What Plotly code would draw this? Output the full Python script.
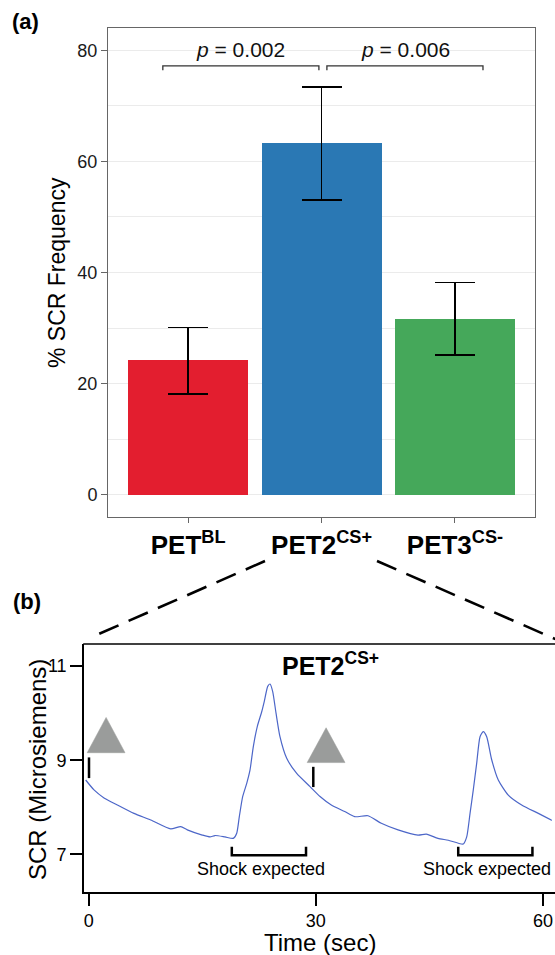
import plotly.graph_objects as go

W, H = 555, 955

# ---------------- Panel (a) data ----------------
categories = ["PET<sup>BL</sup>", "PET2<sup>CS+</sup>", "PET3<sup>CS-</sup>"]
scr_freq = [24.2, 63.3, 31.7]
err_upper = [30.1, 73.4, 38.2]
err_lower = [18.1, 53.1, 25.2]
bar_colors = ["#E31E2F", "#2A78B4", "#45A85A"]
y_ticks_a = [0, 20, 40, 60, 80]
p_labels = ["<i>p</i> = 0.002", "<i>p</i> = 0.006"]
p_label_x = [0.39, 1.63]
bracket_x0 = [-0.19, 1.04]
bracket_x1 = [0.98, 2.21]
bracket_y = 77.2
bracket_tick_y = 76.4

# ---------------- Panel (b) data ----------------
time_s = [-0.40, 0.70, 2.02, 3.78, 5.98, 8.19, 10.83, 12.15, 13.02, 15.00, 16.02, 16.68,
          18.00, 19.10, 19.55, 19.89, 20.34, 20.87, 21.30, 21.74, 22.27, 22.85, 23.19,
          23.64, 23.94, 24.30, 24.74, 25.26, 26.15, 27.47, 29.23, 30.55, 32.04, 33.81,
          35.13, 36.89, 38.64, 40.85, 43.49, 44.59, 46.13, 47.49, 49.47, 49.92, 50.36,
          50.79, 51.24, 51.68, 52.11, 52.56, 53.22, 54.09, 55.41, 57.18, 59.38, 61.58]
scr_us = [8.58, 8.37, 8.20, 8.05, 7.87, 7.73, 7.54, 7.59, 7.52, 7.41, 7.37, 7.40,
          7.37, 7.34, 7.45, 7.80, 8.23, 8.51, 8.79, 9.29, 9.72, 10.03, 10.25,
          10.57, 10.62, 10.46, 10.00, 9.50, 9.04, 8.72, 8.44, 8.23, 8.05, 7.91,
          7.80, 7.82, 7.66, 7.52, 7.41, 7.43, 7.34, 7.30, 7.22, 7.37, 7.87,
          8.37, 8.94, 9.50, 9.61, 9.50, 9.01, 8.58, 8.26, 8.05, 7.87, 7.69]
x_ticks_b = [0, 30, 60]
y_ticks_b = [7, 9, 11]
cue_time = [0.04, 29.66]
cue_tick_low = [8.62, 8.43]
cue_tick_high = [9.06, 8.86]
tri_center_t = [2.30, 31.35]
tri_half_width = 2.5
tri_base_v = [9.16, 8.95]
tri_apex_v = [9.91, 9.69]
shock_start = [18.9, 48.8]
shock_end = [28.7, 58.6]
shock_level = 6.98
shock_tick_top = 7.16
shock_label = "Shock expected"
shock_label_v = 6.68

FONT = "Liberation Sans, Arial, sans-serif"


def px(x):
    return x / W


def py(y):
    return 1 - y / H


fig = go.Figure()

fig.add_trace(go.Bar(
    x=list(range(len(categories))), y=scr_freq,
    marker=dict(color=bar_colors, line=dict(width=0)),
    width=0.9,
    error_y=dict(type="data", symmetric=False,
                 array=[u - m for u, m in zip(err_upper, scr_freq)],
                 arrayminus=[m - l for m, l in zip(scr_freq, err_lower)],
                 color="black", thickness=1.6, width=20),
    xaxis="x", yaxis="y", showlegend=False, hoverinfo="skip"))

fig.add_trace(go.Scatter(
    x=time_s, y=scr_us, mode="lines",
    line=dict(color="#4C66C8", width=1.2, shape="spline", smoothing=0.6),
    xaxis="x2", yaxis="y2", showlegend=False, hoverinfo="skip"))

shapes = []
for x0, x1 in zip(bracket_x0, bracket_x1):
    shapes.append(dict(type="path", xref="x", yref="y",
                       path=f"M {x0},{bracket_tick_y} L {x0},{bracket_y} L {x1},{bracket_y} L {x1},{bracket_tick_y}",
                       line=dict(color="#333333", width=1.3)))
for t, lo, hi in zip(cue_time, cue_tick_low, cue_tick_high):
    shapes.append(dict(type="line", xref="x2", yref="y2", x0=t, x1=t, y0=lo, y1=hi,
                       line=dict(color="black", width=2.5)))
for c, b, a in zip(tri_center_t, tri_base_v, tri_apex_v):
    shapes.append(dict(type="path", xref="x2", yref="y2",
                       path=f"M {c - tri_half_width},{b} L {c + tri_half_width},{b} L {c},{a} Z",
                       fillcolor="#9A9C9B", line=dict(color="#9A9C9B", width=0.5)))
for s, e in zip(shock_start, shock_end):
    shapes.append(dict(type="path", xref="x2", yref="y2",
                       path=f"M {s},{shock_tick_top} L {s},{shock_level} L {e},{shock_level} L {e},{shock_tick_top}",
                       line=dict(color="black", width=2.5)))
# white strip hiding the right plot-edge line of panel (b) (panel continues off the page)
shapes.append(dict(type="rect", xref="paper", yref="paper", layer="above",
                   x0=px(551.8), x1=px(560), y0=py(890.5), y1=py(645.5),
                   fillcolor="white", line=dict(width=0)))
# top border of panel (b)
shapes.append(dict(type="line", xref="paper", yref="paper",
                   x0=px(83.2), y0=py(644), x1=px(560), y1=py(644),
                   line=dict(color="black", width=1.6)))
shapes.append(dict(type="line", xref="paper", yref="paper",
                   x0=px(265), y0=py(561), x1=px(92), y1=py(637),
                   line=dict(color="black", width=2.6, dash="21px,11px")))
shapes.append(dict(type="line", xref="paper", yref="paper",
                   x0=px(377), y0=py(561), x1=px(562), y1=py(642),
                   line=dict(color="black", width=2.6, dash="21px,11px")))

annotations = []
for lbl, x in zip(p_labels, p_label_x):
    annotations.append(dict(xref="x", yref="y", x=x, y=80.2, text=lbl, showarrow=False,
                            font=dict(size=21, color="#111111", family=FONT),
                            xanchor="center", yanchor="middle"))
for s, e in zip(shock_start, shock_end):
    annotations.append(dict(xref="x2", yref="y2", x=(s + e) / 2 - 1.1, y=shock_label_v,
                            text=shock_label, showarrow=False,
                            font=dict(size=18, color="black", family=FONT),
                            xanchor="center", yanchor="middle"))
annotations += [
    dict(xref="paper", yref="paper", x=px(10), y=py(22), text="<b>(a)</b>", showarrow=False,
         font=dict(size=22, color="black", family=FONT), xanchor="left", yanchor="middle"),
    dict(xref="paper", yref="paper", x=px(11), y=py(601), text="<b>(b)</b>", showarrow=False,
         font=dict(size=22, color="black", family=FONT), xanchor="left", yanchor="middle"),
    dict(xref="paper", yref="paper", x=px(57), y=py(273), text="% SCR Frequency", textangle=-90,
         showarrow=False, font=dict(size=23, color="black", family=FONT),
         xanchor="center", yanchor="middle"),
    dict(xref="paper", yref="paper", x=px(37), y=py(770), text="SCR (Microsiemens)", textangle=-90,
         showarrow=False, font=dict(size=24, color="black", family=FONT),
         xanchor="center", yanchor="middle"),
    dict(xref="paper", yref="paper", x=px(320), y=py(942), text="Time (sec)",
         showarrow=False, font=dict(size=24, color="black", family=FONT),
         xanchor="center", yanchor="middle"),
    dict(xref="paper", yref="paper", x=px(330), y=py(664), text="<b>PET2<sup>CS+</sup></b>",
         showarrow=False, font=dict(size=25, color="black", family=FONT),
         xanchor="center", yanchor="middle"),
]

fig.update_layout(
    width=W, height=H, margin=dict(l=0, r=0, t=0, b=0),
    paper_bgcolor="white", plot_bgcolor="white",
    font=dict(family=FONT, color="black"),
    shapes=shapes, annotations=annotations, bargap=0,
    xaxis=dict(domain=[px(108), px(535)], anchor="y", range=[-0.601, 2.60],
               tickmode="array", tickvals=list(range(len(categories))),
               ticktext=[f"<b>{c}</b>" for c in categories],
               tickfont=dict(size=26, color="black", family=FONT),
               showline=True, mirror=True, linecolor="#666666", linewidth=1,
               ticks="outside", ticklen=5, tickcolor="#666666", showgrid=False, zeroline=False),
    yaxis=dict(domain=[py(517), py(28)], anchor="x", range=[-4, 84],
               tickmode="array", tickvals=y_ticks_a,
               tickfont=dict(size=18, color="#1a1a1a", family=FONT),
               showline=True, mirror=True, linecolor="#666666", linewidth=1,
               ticks="outside", ticklen=6, tickcolor="#666666",
               showgrid=True, gridcolor="#EBEBEB", gridwidth=1.2, zeroline=False,
               minor=dict(tickmode="array", tickvals=[10, 30, 50, 70], showgrid=True,
                          gridcolor="#EBEBEB", gridwidth=1.2, ticks="")),
    xaxis2=dict(domain=[px(84), 1.0], anchor="y2", range=[-0.62, 61.58],
                tickmode="array", tickvals=x_ticks_b,
                tickfont=dict(size=18, color="black", family=FONT),
                showline=True, mirror=False, linecolor="black", linewidth=1.6,
                ticks="outside", ticklen=12, tickwidth=1.5, tickcolor="black",
                showgrid=False, zeroline=False, ticklabeloverflow="allow"),
    yaxis2=dict(domain=[py(892), py(644)], anchor="x2", range=[6.2, 11.47],
                tickmode="array", tickvals=y_ticks_b,
                tickfont=dict(size=18, color="black", family=FONT),
                showline=True, mirror=False, linecolor="black", linewidth=1.6,
                ticks="outside", ticklen=12, tickwidth=1.5, tickcolor="black",
                showgrid=False, zeroline=False),
)

fig.write_html(
    "out.html",
    config={"displayModeBar": False},
    post_script="document.body.style.margin='0px';document.body.style.overflow='hidden';",
)
